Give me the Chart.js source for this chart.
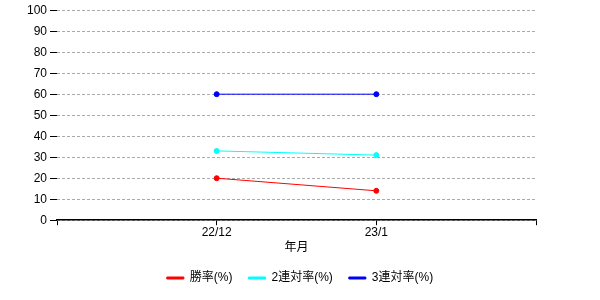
<!DOCTYPE html>
<html>
<head>
<meta charset="utf-8">
<script src="https://cdn.jsdelivr.net/npm/chart.js@4"></script>
<style>
  html, body { margin: 0; padding: 0; background: #fff; }
  #wrap { width: 600px; height: 300px; }
</style>
</head>
<body>
<div id="wrap"><canvas id="chart"></canvas></div>
<script>
// data
var months = ["22/12", "23/1"];
var winRate = [20, 14];
var top2Rate = [33, 31];
var top3Rate = [60, 60];
var yTicks = [0, 10, 20, 30, 40, 50, 60, 70, 80, 90, 100];

var FONT = "'Liberation Sans', 'Noto Sans CJK JP', sans-serif";

// months sit at positions 1..n on an axis running 0..n+1
function toPoints(values) {
    return values.map(function (v, i) { return { x: i + 1, y: v }; });
}

function series(label, values, color) {
    return {
        label: label,
        data: toPoints(values),
        borderColor: color,
        backgroundColor: color,
        borderWidth: 1,
        pointRadius: 2.5,
        pointHoverRadius: 2.5,
        tension: 0
    };
}

var ctx = document.getElementById("chart").getContext("2d");
var chart = new Chart(ctx, {
    type: "line",
    data: {
        datasets: [
            series("勝率(%)", winRate, "#ff0000"),
            series("2連対率(%)", top2Rate, "#00ffff"),
            series("3連対率(%)", top3Rate, "#0000ff")
        ]
    },
    options: {
        responsive: true,
        maintainAspectRatio: false,
        animation: false,
        layout: { padding: { top: 2, right: 0, left: 0, bottom: 6 } },
        plugins: {
            tooltip: { enabled: false },
            legend: {
                position: "bottom",
                labels: {
                    font: { family: FONT, size: 12 },
                    color: "#000",
                    boxWidth: 17,
                    boxHeight: 2,
                    padding: 16
                }
            }
        },
        scales: {
            x: {
                type: "linear",
                min: 0,
                max: months.length + 1,
                afterBuildTicks: function (axis) {
                    var t = [];
                    for (var i = 0; i <= months.length + 1; i++) t.push({ value: i });
                    axis.ticks = t;
                },
                ticks: {
                    font: { family: FONT, size: 12 },
                    color: "#000",
                    padding: 0,
                    maxRotation: 0,
                    callback: function (v) { return months[v - 1] || ""; }
                },
                grid: { drawOnChartArea: false, color: "#000", tickLength: 5 },
                border: { color: "#000", width: 1.5 },
                title: {
                    display: true,
                    text: "年月",
                    font: { family: FONT, size: 12 },
                    color: "#000",
                    padding: { top: 1, bottom: 1 }
                }
            },
            y: {
                min: 0,
                max: 100,
                afterBuildTicks: function (axis) {
                    axis.ticks = yTicks.map(function (v) { return { value: v }; });
                },
                afterFit: function (axis) { axis.width = 57; },
                ticks: {
                    font: { family: FONT, size: 12 },
                    color: "#000",
                    padding: 3
                },
                grid: { color: "#aaaaaa", tickColor: "#000", tickLength: 7, tickWidth: 1 },
                border: { display: false, dash: [3, 2] }
            },
            // empty right-hand axis, only keeps the blank margin on the right
            yRight: {
                position: "right",
                display: true,
                ticks: { display: false },
                grid: { display: false },
                border: { display: false },
                afterFit: function (axis) { axis.width = 64; }
            }
        }
    }
});
</script>
</body>
</html>
